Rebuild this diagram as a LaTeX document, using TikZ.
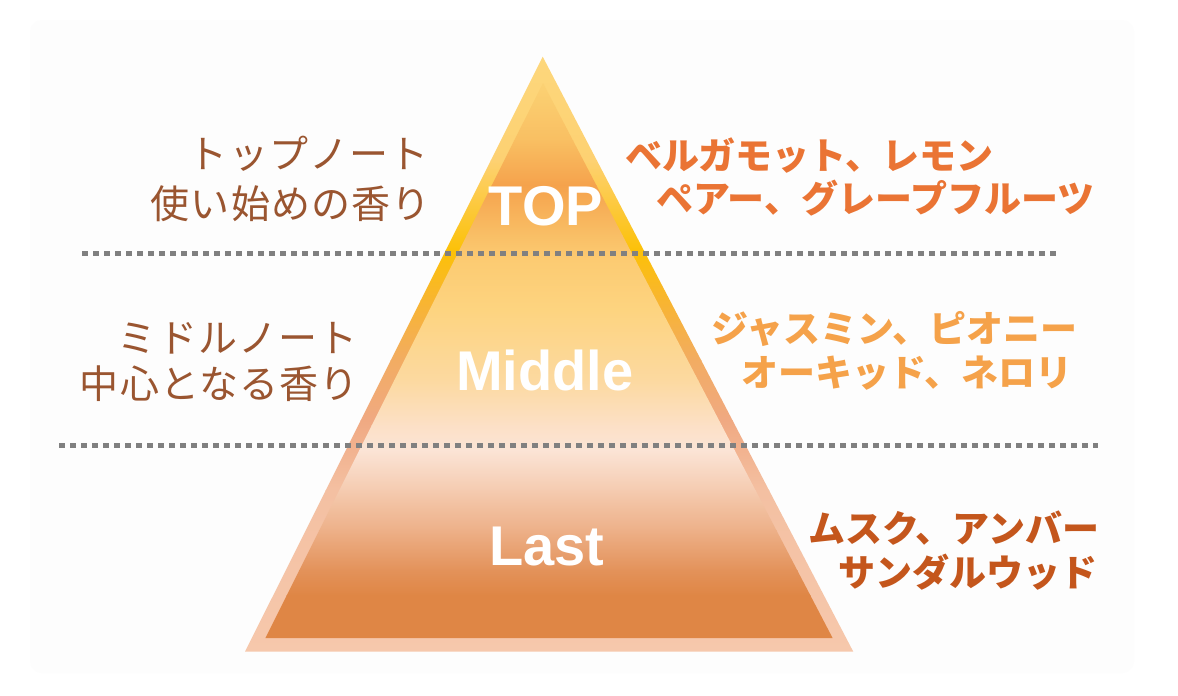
\documentclass[tikz,border=0pt]{standalone}
\usepackage{fontspec}
\setmainfont{Liberation Sans}
\newfontfamily\jpfont{Noto Sans CJK JP}
\newfontfamily\jpspaced{Noto Sans CJK JP}[LetterSpace=3]
\definecolor{bgpanel}{HTML}{FDFDFD}
\definecolor{dotgray}{HTML}{808080}
\definecolor{leftbrown}{HTML}{9A5530}
\definecolor{toporange}{HTML}{EA7434}
\definecolor{midorange}{HTML}{F5A24A}
\definecolor{lastorange}{HTML}{C4561C}
% outer border stops
\definecolor{oA}{HTML}{FDD77C}
\definecolor{oB}{HTML}{FDD172}
\definecolor{oC}{HTML}{FCC108}
\definecolor{oD}{HTML}{F8B530}
\definecolor{oE}{HTML}{F2AC62}
\definecolor{oF}{HTML}{F0A982}
\definecolor{oG}{HTML}{F4C0A2}
\definecolor{oH}{HTML}{F6C8AC}
% inner fill stops
\definecolor{iA}{HTML}{FBD274}
\definecolor{iB}{HTML}{F9BF62}
\definecolor{iC}{HTML}{F5A24C}
\definecolor{iD}{HTML}{F9BF66}
\definecolor{iE}{HTML}{FCCB72}
\definecolor{iF}{HTML}{FDD480}
\definecolor{iG}{HTML}{FCD9A0}
\definecolor{iH}{HTML}{FCE0C6}
\definecolor{iI}{HTML}{FBE4D6}
\definecolor{iJ}{HTML}{F5CBB0}
\definecolor{iK}{HTML}{EDB088}
\definecolor{iL}{HTML}{E3925A}
\definecolor{iM}{HTML}{DF8645}
\newcommand\bandseg[4]{\shade[top color=#3,bottom color=#4] (200,#1) rectangle (900,#2+0.8);}
\begin{document}
\begin{tikzpicture}[x=1pt,y=-1pt,
  dotline/.style={draw=dotgray,line width=5pt,dash pattern=on 5.5pt off 5.5pt},
  leftnote/.style={inner sep=0pt,text=leftbrown,font=\jpspaced\fontsize{39}{44}\selectfont},
  rightnote/.style={inner sep=0pt,font=\jpfont\bfseries\fontsize{37}{40}\selectfont},
  tiername/.style={inner sep=0pt,text=white,font=\bfseries\fontsize{56}{60}\selectfont}]
\useasboundingbox (0,0) rectangle (1178,696);
\fill[white] (0,0) rectangle (1178,696);
\fill[bgpanel,rounded corners=12pt] (30,20) rectangle (1134,673);
% outer triangle (border)
\begin{scope}
\clip (542.7,56.7) -- (853.3,651.7) -- (245,651.7) -- cycle;
\bandseg{56}{160}{oA}{oB}
\bandseg{160}{250}{oB}{oC}
\bandseg{250}{300}{oC}{oD}
\bandseg{300}{360}{oD}{oE}
\bandseg{360}{420}{oE}{oF}
\bandseg{420}{490}{oF}{oG}
\bandseg{490}{652}{oG}{oH}
\end{scope}
% inner triangle
\begin{scope}
\clip (543,83) -- (832.6,638) -- (265.4,638) -- cycle;
\bandseg{82}{140}{iA}{iB}
\bandseg{140}{185}{iB}{iC}
\bandseg{185}{235}{iC}{iD}
\bandseg{235}{260}{iD}{iE}
\bandseg{260}{310}{iE}{iF}
\bandseg{310}{380}{iF}{iG}
\bandseg{380}{425}{iG}{iH}
\bandseg{425}{450}{iH}{iI}
\bandseg{450}{490}{iI}{iJ}
\bandseg{490}{530}{iJ}{iK}
\bandseg{530}{570}{iK}{iL}
\bandseg{570}{595}{iL}{iM}
\bandseg{595}{639}{iM}{iM}
\end{scope}
% dotted separators
\draw[dotline] (82,253) -- (1060,253);
\draw[dotline] (59,445) -- (1098,445);
% tier names
\node[tiername,anchor=base] (top) at (546,225) {TOP};
\node[tiername,anchor=base] (middle) at (545,390) {Middle};
\node[tiername,anchor=base] (last) at (547,565) {Last};
% left descriptions
\node[leftnote,anchor=base east] (topl1) at (429,168) {トップノート};
\node[leftnote,anchor=base east] (topl2) at (431,218) {使い始めの香り};
\node[leftnote,anchor=base east] (midl1) at (358,352) {ミドルノート};
\node[leftnote,anchor=base east] (midl2) at (359,398) {中心となる香り};
% right descriptions
\node[rightnote,text=toporange,anchor=base west] (topr1) at (625,169) {ベルガモット、レモン};
\node[rightnote,text=toporange,anchor=base west] (topr2) at (656,212) {ペアー、グレープフルーツ};
\node[rightnote,text=midorange,anchor=base west] (midr1) at (711,342) {ジャスミン、ピオニー};
\node[rightnote,text=midorange,anchor=base west] (midr2) at (741,386) {オーキッド、ネロリ};
\node[rightnote,text=lastorange,anchor=base west] (lastr1) at (808,542) {ムスク、アンバー};
\node[rightnote,text=lastorange,anchor=base west] (lastr2) at (838,586) {サンダルウッド};
\end{tikzpicture}
\end{document}
